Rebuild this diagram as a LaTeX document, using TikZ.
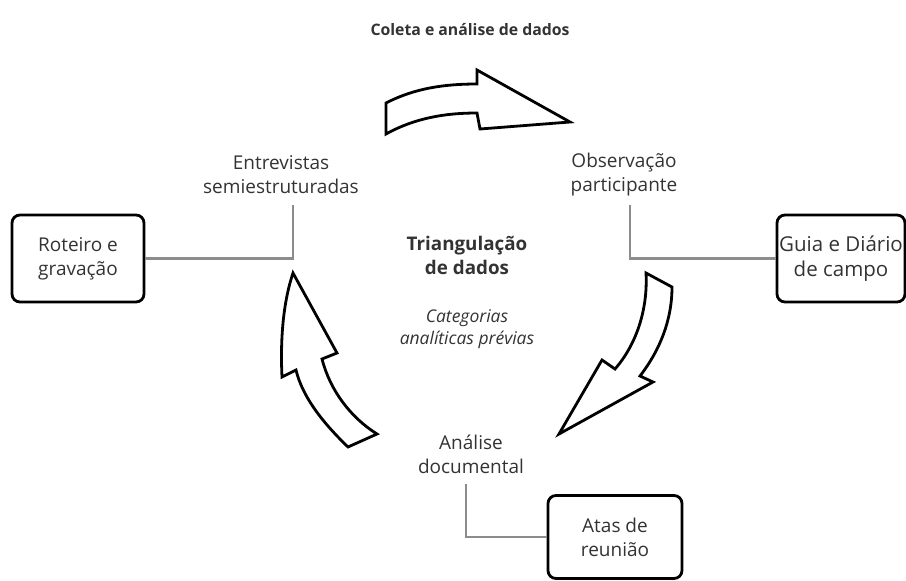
\documentclass[tikz,border=0pt]{standalone}
\usepackage{fontspec}
\setmainfont{Open Sans}
\usepackage{tikz}

\definecolor{textgray}{HTML}{333333}
\definecolor{linegray}{HTML}{8C8C8C}

\begin{document}
\begin{tikzpicture}[x=1pt,y=-1pt]
\tikzset{
    txt/.style={text=textgray,align=center,font=\fontsize{19}{24}\selectfont},
    box/.style={txt,draw=black,line width=2.8pt,rounded corners=8pt,
        minimum width=132pt,minimum height=87pt,inner sep=0pt},
    link/.style={draw=linegray,line width=2.8pt},
    bigarrow/.style={draw=black,fill=white,line width=2.8pt,line join=miter}
}
\useasboundingbox (0,0) rectangle (906,581);

\node[txt,font=\fontsize{15.8}{20}\selectfont\bfseries] (titulo) at (470,30) {Coleta e análise de dados};

\node[txt] (entrevistas) at (281,175) {Entrevistas\\semiestruturadas};
\node[txt] (observacao) at (624,175) {Observação\\participante};
\node[txt] (analise) at (471,454) {Análise\\documental};

\node[txt,font=\fontsize{18.8}{24}\selectfont\bfseries] (triang) at (467,255) {Triangulação\\de dados};
\node[txt,font=\fontsize{17.5}{22}\selectfont\itshape] (categ) at (467,329) {Categorias\\analíticas prévias};

\node[box] (roteiro) at (78,258.5) {Roteiro e\\gravação};
\node[box,minimum width=128pt,font=\fontsize{20.5}{25}\selectfont] (guia) at (841,258.5) {Guia e Diário\\de campo};
\node[box,minimum width=134pt,minimum height=83pt] (atas) at (615,537) {Atas de\\reunião};

\coordinate (pe) at (293,205);
\coordinate (po) at (630,205);
\coordinate (pa) at (466,484);

\draw[link] (roteiro.east) -| (pe);
\draw[link] (guia.west) -| (po);
\draw[link] (atas.west) -| (pa);

% setas do ciclo
\draw[bigarrow] (386,103) .. controls (415,88) and (445,84) .. (477,84) -- (477,70) -- (570,122)
    -- (480,129) -- (477,113) .. controls (445,113) and (415,118) .. (386,134) -- cycle;
\draw[bigarrow] (646,273) .. controls (648,310) and (636,345) .. (615,369) -- (602,360) -- (559,434)
    -- (653,382) -- (640,376) .. controls (660,350) and (672,320) .. (672,287) -- cycle;
\draw[bigarrow] (348,447) .. controls (320,420) and (302,395) .. (296,370) -- (282,377)
    .. controls (280,335) and (284,300) .. (293,273) -- (337,353) -- (322,359)
    .. controls (330,390) and (350,417) .. (377,434) -- cycle;

\end{tikzpicture}
\end{document}
